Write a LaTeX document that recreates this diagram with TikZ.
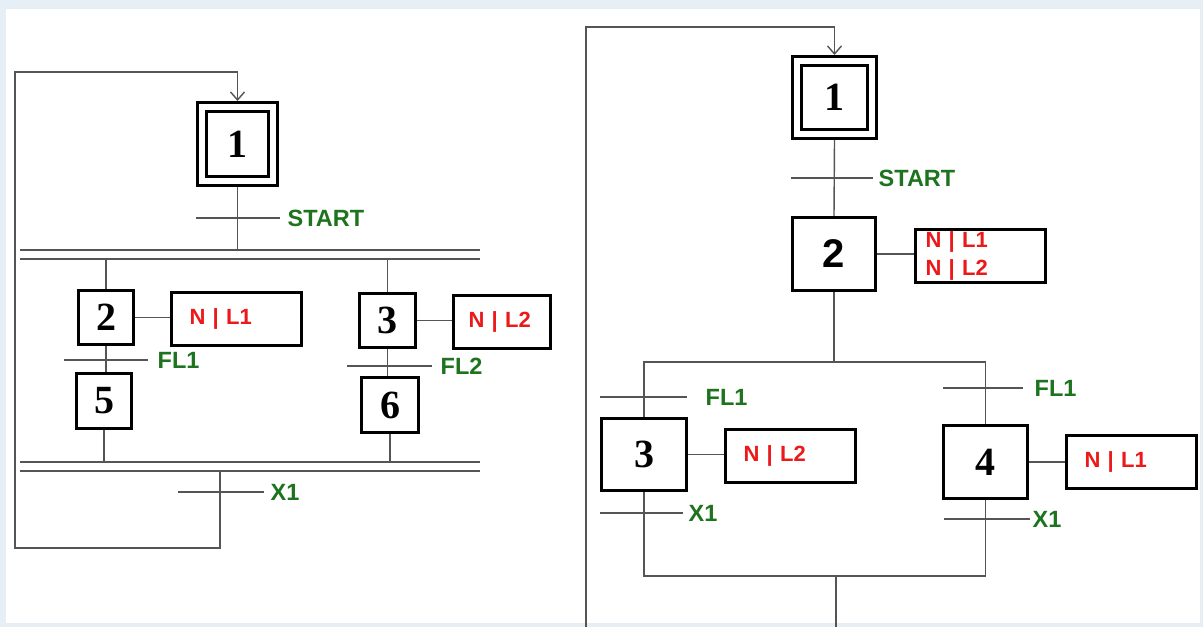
\documentclass[tikz,border=0pt]{standalone}
\usepackage{fontspec}
\setmainfont{Liberation Serif}
\setsansfont{Liberation Sans}
\usetikzlibrary{arrows.meta}

\definecolor{verdeGrafcet}{RGB}{30,115,30}
\definecolor{rossoAzione}{RGB}{235,25,25}
\definecolor{grigioLinea}{RGB}{85,85,85}
\definecolor{cornice}{RGB}{230,238,246}

\tikzset{
  linea/.style={grigioLinea, line width=1.4pt},
  freccia/.style={linea, -{Straight Barb[length=8pt, width=14pt]}},
  passo/.style={draw, line width=3pt, outer sep=1.5pt, inner sep=0pt,
    font=\bfseries\fontsize{40}{40}\selectfont},
  iniziale/.style={passo, double=white, double distance=6pt, outer sep=6pt},
  azione/.style={draw, line width=3pt, outer sep=1.5pt, inner xsep=18pt, inner ysep=0pt,
    minimum height=53pt, text width=#1, align=left, text=rossoAzione,
    font=\sffamily\bfseries\fontsize{22}{28}\selectfont},
  etichetta/.style={text=verdeGrafcet, anchor=west, inner sep=0pt,
    font=\sffamily\bfseries\fontsize{23.5}{23.5}\selectfont},
}

\begin{document}
\begin{tikzpicture}[x=1pt, y=-1pt]

% Sfondo e cornice
\fill[cornice] (0,0) rectangle (1203,627);
\fill[white] (6,9) rectangle (1200,623);
\useasboundingbox (0,0) rectangle (1203,627);

% ===== Grafcet di sinistra (parallelo) =====
\node[iniziale, minimum width=71pt, minimum height=74pt] (L1) at (237.5,144) {1};
\node[passo, minimum width=55pt, minimum height=54pt] (L2) at (106,317.5) {2};
\node[passo, minimum width=56pt, minimum height=54pt] (L3) at (387.5,320.5) {3};
\node[passo, minimum width=55pt, minimum height=55pt] (L5) at (104,401) {5};
\node[passo, minimum width=57pt, minimum height=55pt] (L6) at (390,405) {6};
\node[azione=94pt] (LA2) at (236.5,319) {N | L1};
\node[azione=67pt, inner xsep=15pt] (LA3) at (502,321.5) {N | L2};

% barre doppie
\coordinate (barraA) at (20,250);
\coordinate (barraB) at (20,259);
\coordinate (barraC) at (20,462);
\coordinate (barraD) at (20,471);
\draw[linea] (barraA) -- (480,250);
\draw[linea] (barraB) -- (480,259);
\draw[linea] (barraC) -- (480,462);
\draw[linea] (barraD) -- (480,471);

% collegamenti
\draw[linea] (L1.south) -- (L1.south |- barraA);
\draw[linea] (L2.north |- barraB) -- (L2.north);
\draw[linea] (L3.north |- barraB) -- (L3.north);
\draw[linea] (L2.south) -- (L2.south |- L5.north);
\draw[linea] (L3.south) -- (L3.south |- L6.north);
\draw[linea] (L5.south) -- (L5.south |- barraC);
\draw[linea] (L6.south) -- (L6.south |- barraC);
\draw[linea] (L2.east) -- (L2.east -| LA2.west);
\draw[linea] (L3.east) -- (L3.east -| LA3.west);

% transizioni
\draw[linea] (196,218) -- (280,218) node[etichetta, xshift=7pt] (tStartL) {START};
\draw[linea] (64,360) -- (148,360) node[etichetta, xshift=9pt] (tFL1L) {FL1};
\draw[linea] (347,366) -- (432,366) node[etichetta, xshift=8pt] (tFL2L) {FL2};
\draw[linea] (178,492) -- (264,492) node[etichetta, xshift=6pt] (tX1L) {X1};

% ritorno al passo iniziale
\coordinate (ritL1) at (220,471);
\coordinate (ritL2) at (220,548);
\coordinate (ritL3) at (15,548);
\coordinate (ritL4) at (15,72);
\coordinate (ritL5) at (237.5,72);
\draw[freccia] (ritL1) -- (ritL2) -- (ritL3) -- (ritL4) -- (ritL5) -- (L1.north);

% ===== Grafcet di destra (divergenza OR) =====
\node[iniziale, minimum width=75pt, minimum height=73pt] (R1) at (834.5,97.5) {1};
\node[passo, font=\sffamily\bfseries\fontsize{40}{40}\selectfont,
  minimum width=83pt, minimum height=73pt] (R2) at (834,254) {2};
\node[passo, minimum width=85pt, minimum height=72pt] (R3) at (644,454.5) {3};
\node[passo, minimum width=84pt, minimum height=73pt] (R4) at (985.5,462) {4};
\node[azione=110pt, inner xsep=10pt] (RA2) at (980.5,255.5) {N | L1\\N | L2};
\node[azione=94pt] (RA3) at (790.5,455.5) {N | L2};
\node[azione=94pt] (RA4) at (1131.5,462) {N | L1};

% collegamenti
\coordinate (diverg) at (834,362);
\coordinate (converg) at (836,576);
\draw[linea] (R1.south) -- (R2.north);
\draw[linea] (R2.east) -- (R2.east -| RA2.west);
\draw[linea] (R3.east) -- (R3.east -| RA3.west);
\draw[linea] (R4.east) -- (R4.east -| RA4.west);
\draw[linea] (R2.south) -- (diverg);
\draw[linea] (R3.north) -- (R3.north |- diverg) -- (R4.north |- diverg) -- (R4.north);
\draw[linea] (R3.south) -- (R3.south |- converg) -- (R4.south |- converg) -- (R4.south);
\draw[linea] (converg) -- (836,627);

% transizioni
\draw[linea] (791,178) -- (873,178) node[etichetta, xshift=5pt] (tStartR) {START};
\draw[linea] (600,397) -- (687,397) node[etichetta, xshift=18pt] (tFL1a) {FL1};
\draw[linea] (600,513) -- (683,513) node[etichetta, xshift=5pt] (tX1a) {X1};
\draw[linea] (943,388) -- (1023,388) node[etichetta, xshift=11pt] (tFL1b) {FL1};
\draw[linea] (944,519) -- (1030,519) node[etichetta, xshift=2pt] (tX1b) {X1};

% ritorno al passo iniziale
\coordinate (ritR1) at (586,627);
\coordinate (ritR2) at (586,27);
\coordinate (ritR3) at (834.5,27);
\draw[freccia] (ritR1) -- (ritR2) -- (ritR3) -- (R1.north);

\end{tikzpicture}
\end{document}
